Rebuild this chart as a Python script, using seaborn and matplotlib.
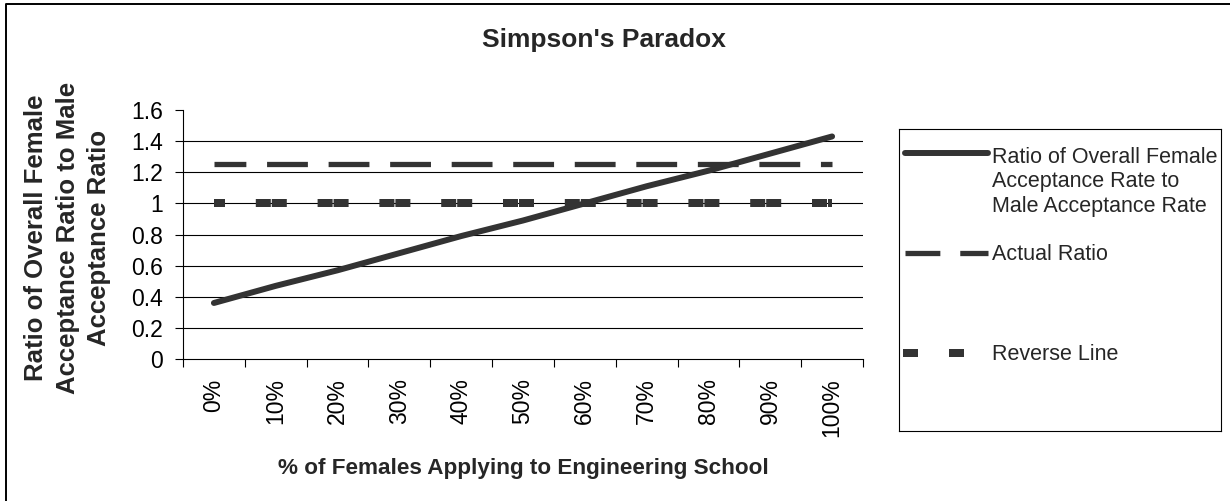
import pandas as pd
import numpy as np
import seaborn as sns
import matplotlib.pyplot as plt
from matplotlib.lines import Line2D
from matplotlib.ticker import FixedLocator

# data
pct_labels = ['0%', '10%', '20%', '30%', '40%', '50%', '60%', '70%', '80%', '90%', '100%']
overall_ratio = [0.36, 0.47, 0.57, 0.68, 0.79, 0.89, 1.00, 1.11, 1.21, 1.32, 1.43]
actual_ratio = [1.25, 1.25, 1.25, 1.25, 1.25, 1.25, 1.25, 1.25, 1.25, 1.25, 1.25]
reverse_line = [1, 1, 1, 1, 1, 1, 1, 1, 1, 1, 1]
y_ticks = [0, 0.2, 0.4, 0.6, 0.8, 1.0, 1.2, 1.4, 1.6]
y_tick_labels = ['0', '0.2', '0.4', '0.6', '0.8', '1', '1.2', '1.4', '1.6']

legend_labels = ['Ratio of Overall Female\nAcceptance Rate to\nMale Acceptance Rate',
                 'Actual Ratio', 'Reverse Line']

df = pd.DataFrame({'pct': pct_labels, 'overall': overall_ratio,
                   'actual': actual_ratio, 'reverse': reverse_line})

sns.set_theme(style="white")
plt.rcParams['font.family'] = ['Liberation Sans', 'DejaVu Sans']

W, H = 1230, 501
fig = plt.figure(figsize=(W / 100, H / 100), dpi=100)
ax = fig.add_axes([183 / W, 142 / H, 680 / W, 249 / H])

line_col = '#333333'

# line styles (dash lengths are in units of linewidth)
solid_kw = dict(color=line_col, linewidth=4.3, solid_capstyle='round')
actual_kw = dict(color=line_col, linewidth=3.8,
                 linestyle=(1.7, (41 / 5.3, 20.8 / 5.3)))
reverse_kw = dict(color=line_col, linewidth=5.76,
                  linestyle=(0.5, (15 / 8, 30.8 / 8, 15 / 8, 1 / 8)))

sns.lineplot(data=df, x='pct', y='overall', sort=False, ax=ax, zorder=4, **solid_kw)
sns.lineplot(data=df, x='pct', y='actual', sort=False, ax=ax, zorder=3, **actual_kw)
sns.lineplot(data=df, x='pct', y='reverse', sort=False, ax=ax, zorder=3, **reverse_kw)

ax.set_xlim(-0.5, len(pct_labels) - 0.5)
ax.set_ylim(0, 1.6)

# horizontal gridlines (none at the top)
for yv in y_ticks[1:-1]:
    ax.axhline(yv, color='black', linewidth=0.8, zorder=1)

ax.set_yticks(y_ticks)
ax.set_yticklabels(y_tick_labels)
ax.xaxis.set_minor_locator(FixedLocator(np.arange(-0.5, len(pct_labels), 1)))
ax.tick_params(axis='x', which='major', length=0, pad=14, labelsize=16.5,
               labelrotation=90, colors='black')
ax.tick_params(axis='x', which='minor', length=5.8, width=0.8, direction='out',
               color='black', bottom=True)
ax.tick_params(axis='y', which='major', length=5.8, width=0.8, direction='out',
               pad=8.6, labelsize=16.5, colors='black', left=True)

for s in ['top', 'right']:
    ax.spines[s].set_visible(False)
for s in ['left', 'bottom']:
    ax.spines[s].set_color('black')
    ax.spines[s].set_linewidth(0.8)

ax.set_xlabel('')
ax.set_ylabel('')

# titles
fig.text(482 / W, 1 - 47 / H, "Simpson's Paradox", ha='left', va='baseline',
         fontsize=19, fontweight='bold')
fig.text(523 / W, 1 - 474 / H, '% of Females Applying to Engineering School',
         ha='center', va='baseline', fontsize=16.2, fontweight='bold')
fig.text(67.5 / W, 1 - 238 / H,
         'Ratio of Overall Female\nAcceptance Ratio to Male\nAcceptance Ratio',
         ha='center', va='center', rotation=90, multialignment='center',
         fontsize=18.5, fontweight='bold', linespacing=1.4)

# legend box drawn in pixel coordinates
lax = fig.add_axes([899 / W, 1 - 431 / H, 322 / W, 302 / H])
lax.set_xlim(0, 322)
lax.set_ylim(302, 0)
lax.set_xticks([])
lax.set_yticks([])
lax.set_facecolor('white')
for s in lax.spines.values():
    s.set_color('black')
    s.set_linewidth(0.8)

lax.plot([6, 89], [24, 24], **solid_kw)
lax.plot([6, 89], [124, 124], color=line_col, linewidth=3.8,
         linestyle=(0, (35 / 5.3, 20 / 5.3)))
lax.plot([4, 66], [224, 224], color=line_col, linewidth=5.76,
         linestyle=(0, (15 / 8, 31 / 8)))
lax.text(93, 53, legend_labels[0], ha='left', va='center', fontsize=15.5,
         linespacing=1.2)
lax.text(93, 125, legend_labels[1], ha='left', va='center', fontsize=15.5)
lax.text(93, 226, legend_labels[2], ha='left', va='center', fontsize=15.5)

# outer chart border (top and left edges visible)
fig.add_artist(Line2D([6 / W, 6 / W, 1], [0, 1 - 4 / H, 1 - 4 / H],
                      transform=fig.transFigure, color='black', linewidth=1.4))

fig.savefig('out.png', dpi=100)
